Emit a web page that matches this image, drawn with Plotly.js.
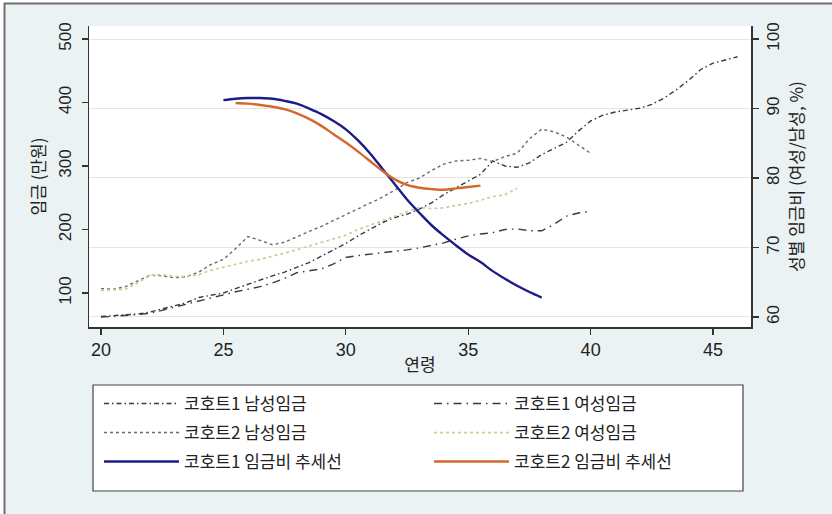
<!DOCTYPE html>
<html>
<head>
<meta charset="utf-8">
<script src="https://cdn.plot.ly/plotly-3.0.1.min.js"></script>
<style>html,body{margin:0;padding:0;background:#fff;}#chart{width:832px;height:514px;}</style>
</head>
<body>
<div id="chart"></div>
<script>
// ---- data ----
const ageC1M = [20,20.5,21,21.5,22,22.5,23,23.5,24,24.5,25,25.5,26,26.5,27,27.5,28,28.5,29,29.5,30,30.5,31,31.5,32,32.5,33,33.5,34,34.5,35,35.5,36,36.5,37,37.5,38,38.5,39,39.5,40,40.5,41,41.5,42,42.5,43,43.5,44,44.5,45,45.5,46];
const wageC1M = [63,64,65,67,70,75,80,85,93,96,100,107,114,120,127,133,140,148,158,168,178,190,201,211,219,224,232,242,255,266,276,287,308,300,298,305,318,327,337,355,371,380,385,388,391,397,407,420,435,452,462,467,472];

const ageC1F = [20,20.5,21,21.5,22,22.5,23,23.5,24,24.5,25,25.5,26,26.5,27,27.5,28,28.5,29,29.5,30,30.5,31,31.5,32,32.5,33,33.5,34,34.5,35,35.5,36,36.5,37,37.5,38,38.5,39,39.5,40];
const wageC1F = [62,63,64,66,68,73,77,83,87,93,98,102,106,110,116,123,132,135,138,146,156,159,161,163,165,168,171,175,179,185,190,193,195,200,201,198,198,208,221,226,229];

const ageC2M = [20,20.5,21,21.5,22,22.5,23,23.5,24,24.5,25,25.5,26,26.5,27,27.5,28,28.5,29,29.5,30,30.5,31,31.5,32,32.5,33,33.5,34,34.5,35,35.5,36,36.5,37,37.5,38,38.5,39,39.5,40];
const wageC2M = [107,106,110,119,128,127,124,126,133,145,153,170,189,183,176,180,189,197,205,214,224,233,242,251,262,274,281,293,303,308,309,312,307,315,320,343,358,354,346,333,320];

const ageC2F = [20,20.5,21,21.5,22,22.5,23,23.5,24,24.5,25,25.5,26,26.5,27,27.5,28,28.5,29,29.5,30,30.5,31,31.5,32,32.5,33,33.5,34,34.5,35,35.5,36,36.5,37];
const wageC2F = [104,105,106,116,128,129,126,126,129,136,141,145,150,153,158,162,168,174,180,185,191,200,207,213,220,228,235,233,234,238,241,246,252,255,265];

const ageTrend1 = [25,25.5,26,26.5,27,27.5,28,28.5,29,29.5,30,30.5,31,31.5,32,32.5,33,33.5,34,34.5,35,35.5,36,36.5,37,37.5,38];
const ratioTrend1 = [91.2,91.4,91.5,91.5,91.4,91.1,90.7,90.0,89.2,88.2,87.0,85.4,83.5,81.3,79.1,76.9,75.0,73.2,71.7,70.3,69.0,67.9,66.6,65.5,64.5,63.6,62.8];

const ageTrend2 = [25.5,26,26.5,27,27.5,28,28.5,29,29.5,30,30.5,31,31.5,32,32.5,33,33.5,34,34.5,35,35.5];
const ratioTrend2 = [90.8,90.7,90.5,90.25,89.9,89.3,88.5,87.5,86.3,85.1,83.8,82.4,81.0,79.8,79.0,78.6,78.4,78.3,78.5,78.7,78.9];

const names = ['코호트1 남성임금','코호트1 여성임금','코호트2 남성임금','코호트2 여성임금','코호트1 임금비 추세선','코호트2 임금비 추세선'];
const xTicks = [20,25,30,35,40,45];
const yTicksLeft = [100,200,300,400,500];
const yTicksRight = [60,70,80,90,100];

// ---- layout helpers ----
const FONT = 'Liberation Sans, Arial, "Noto Sans CJK KR", sans-serif';
const KFONT = '"Noto Sans CJK KR", "Liberation Sans", sans-serif';
const L = 89, R = 751, T = 26, B = 327;
const px2x = p => (p - L) / (R - L);
const px2y = p => (B - p) / (B - T);

const traces = [
  {x: ageC1M, y: wageC1M, name: names[0], type: 'scatter', mode: 'lines', legend: 'legend',
   line: {color: '#3a3a3a', width: 1.4, dash: '5px,3px,1.5px,3px'}},
  {x: ageC1F, y: wageC1F, name: names[1], type: 'scatter', mode: 'lines', legend: 'legend',
   line: {color: '#3a3a3a', width: 1.4, dash: '8px,5px,1.5px,5px'}},
  {x: ageC2M, y: wageC2M, name: names[2], type: 'scatter', mode: 'lines', legend: 'legend2',
   line: {color: '#6a6a6a', width: 1.4, dash: 'dot'}},
  {x: ageC2F, y: wageC2F, name: names[3], type: 'scatter', mode: 'lines', legend: 'legend2',
   line: {color: '#cfcc9c', width: 1.7, dash: 'dot'}},
  {x: ageTrend1, y: ratioTrend1, name: names[4], type: 'scatter', mode: 'lines', yaxis: 'y2', legend: 'legend3',
   line: {color: '#1c1c86', width: 2.4, shape: 'spline'}},
  {x: ageTrend2, y: ratioTrend2, name: names[5], type: 'scatter', mode: 'lines', yaxis: 'y2', legend: 'legend3',
   line: {color: '#d2692c', width: 2.4, shape: 'spline'}}
];

function legendRow(yPx) {
  return {
    orientation: 'h', x: px2x(99), xanchor: 'left', y: px2y(yPx), yanchor: 'middle',
    bgcolor: 'rgba(0,0,0,0)', borderwidth: 0, itemwidth: 75, entrywidth: 240,
    font: {family: KFONT, size: 17, color: '#222'}, traceorder: 'normal', itemclick: false
  };
}

const layout = {
  width: 832, height: 514,
  margin: {l: L, r: 832 - R, t: T, b: 514 - B, autoexpand: false},
  paper_bgcolor: '#eaf2f3',
  plot_bgcolor: '#ffffff',
  showlegend: true,
  font: {family: FONT, color: '#222'},
  xaxis: {
    range: [19.51, 46.55], tickmode: 'array', tickvals: xTicks, ticktext: xTicks.map(String),
    showgrid: false, zeroline: false, showline: true, linecolor: '#333', linewidth: 1.5,
    ticks: 'outside', ticklen: 6, tickcolor: '#333', tickwidth: 1.3,
    tickfont: {family: FONT, size: 18, color: '#222'},
    title: {text: '연령', font: {family: KFONT, size: 17, color: '#222'}, standoff: 0}
  },
  yaxis: {
    range: [46.5, 520.5], tickmode: 'array', tickvals: yTicksLeft, ticktext: yTicksLeft.map(String),
    showgrid: false, zeroline: false, showline: true, linecolor: '#333', linewidth: 1.5,
    ticks: 'outside', ticklen: 6, tickcolor: '#333', tickwidth: 1.3, tickangle: -90, ticklabelstandoff: 4,
    tickfont: {family: FONT, size: 17, color: '#222'},
    title: {text: '임금 (만원)', font: {family: KFONT, size: 17, color: '#222'}, standoff: 6}
  },
  yaxis2: {
    overlaying: 'y', side: 'right',
    range: [58.56, 101.87], tickmode: 'array', tickvals: yTicksRight, ticktext: yTicksRight.map(String),
    showgrid: true, gridcolor: '#e6e3e3', gridwidth: 1, zeroline: false, showline: true, linecolor: '#333', linewidth: 1.5,
    ticks: 'outside', ticklen: 6, tickcolor: '#333', tickwidth: 1.3, tickangle: -90,
    tickfont: {family: FONT, size: 17, color: '#222'},
    title: {text: '성별 임금비 (여성/남성, %)', font: {family: KFONT, size: 17, color: '#222'}, standoff: 6}
  },
  legend: legendRow(404),
  legend2: legendRow(433),
  legend3: legendRow(462),
  shapes: [
    // white strips outside the outer frame
    {type: 'rect', xref: 'paper', yref: 'paper', x0: px2x(0), x1: px2x(4), y0: px2y(514), y1: px2y(0),
     fillcolor: '#ffffff', line: {width: 0}, layer: 'below'},
    {type: 'rect', xref: 'paper', yref: 'paper', x0: px2x(0), x1: px2x(832), y0: px2y(3), y1: px2y(0),
     fillcolor: '#ffffff', line: {width: 0}, layer: 'below'},
    // outer frame (left and top)
    {type: 'line', xref: 'paper', yref: 'paper', x0: px2x(4.5), x1: px2x(4.5), y0: px2y(514), y1: px2y(3),
     line: {color: '#6e6e6e', width: 2}, layer: 'below'},
    {type: 'line', xref: 'paper', yref: 'paper', x0: px2x(4), x1: px2x(832), y0: px2y(3.5), y1: px2y(3.5),
     line: {color: '#6e6e6e', width: 2}, layer: 'below'},
    // legend box
    {type: 'rect', xref: 'paper', yref: 'paper', x0: px2x(93), x1: px2x(743), y0: px2y(491), y1: px2y(385),
     fillcolor: '#ffffff', line: {color: '#444', width: 1.2}, layer: 'below'}
  ]
};

Plotly.newPlot('chart', traces, layout, {displayModeBar: false, staticPlot: true});
</script>
</body>
</html>
